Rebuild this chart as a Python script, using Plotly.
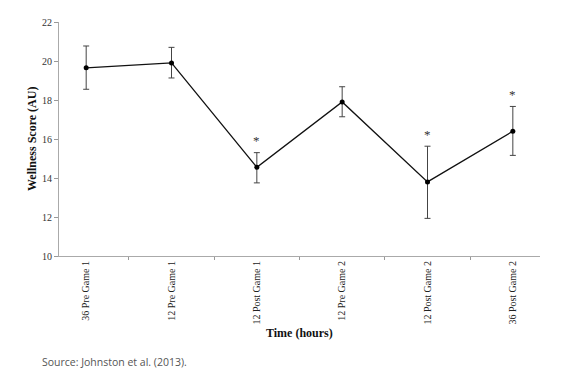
import plotly.graph_objects as go

categories = ["36 Pre Game 1", "12 Pre Game 1", "12 Post Game 1",
              "12 Pre Game 2", "12 Post Game 2", "36 Post Game 2"]
wellness = [19.65, 19.9, 14.55, 17.9, 13.8, 16.4]
err_plus = [1.12, 0.8, 0.75, 0.78, 1.83, 1.27]
err_minus = [1.1, 0.77, 0.8, 0.76, 1.87, 1.24]
significant = [False, False, True, False, True, True]
y_ticks = [10, 12, 14, 16, 18, 20, 22]

fig = go.Figure()
fig.add_trace(go.Scatter(
    x=categories, y=wellness, mode="lines+markers",
    line=dict(color="#111", width=1.3),
    marker=dict(color="#000", size=5),
    error_y=dict(type="data", symmetric=False, array=err_plus, arrayminus=err_minus,
                 color="#444", thickness=1, width=3),
    showlegend=False, hoverinfo="skip",
))

for c, v, e, s in zip(categories, wellness, err_plus, significant):
    if s:
        fig.add_annotation(x=c, y=v + e, text="*", showarrow=False, yshift=12,
                           font=dict(family="Liberation Serif", size=13, color="#333"))

fig.add_annotation(text="<b>Time (hours)</b>", xref="paper", yref="paper", x=0.5, y=0,
                   yshift=-77, yanchor="middle", showarrow=False,
                   font=dict(family="Liberation Serif", size=12, color="#111"))
fig.add_annotation(text="<b>Wellness Score (AU)</b>", xref="paper", yref="paper", x=0, y=0.5,
                   xshift=-27, xanchor="center", textangle=-90, showarrow=False,
                   font=dict(family="Liberation Serif", size=12, color="#111"))
fig.add_annotation(text="Source: Johnston et al. (2013).", xref="paper", yref="paper",
                   x=0, y=0, xshift=-19, yshift=-106, xanchor="left", yanchor="middle",
                   showarrow=False,
                   font=dict(family="Open Sans", size=10.5, color="#555"))

fig.update_layout(
    width=572, height=388,
    margin=dict(l=51, r=40, t=14, b=140),
    paper_bgcolor="white", plot_bgcolor="white",
    xaxis=dict(type="category", tickson="boundaries", ticks="outside", ticklen=3,
               tickcolor="#999", showline=True, linecolor="#aaa", linewidth=1,
               tickangle=-90, showgrid=False, automargin=False,
               tickfont=dict(family="Liberation Serif", size=10, color="#222")),
    yaxis=dict(range=[10, 22], tickvals=y_ticks, ticks="outside", ticklen=4,
               tickcolor="#999", showline=True, linecolor="#aaa", linewidth=1,
               showgrid=False, zeroline=False, automargin=False,
               tickfont=dict(family="Liberation Serif", size=10, color="#333")),
)

fig.write_html("out.html")
